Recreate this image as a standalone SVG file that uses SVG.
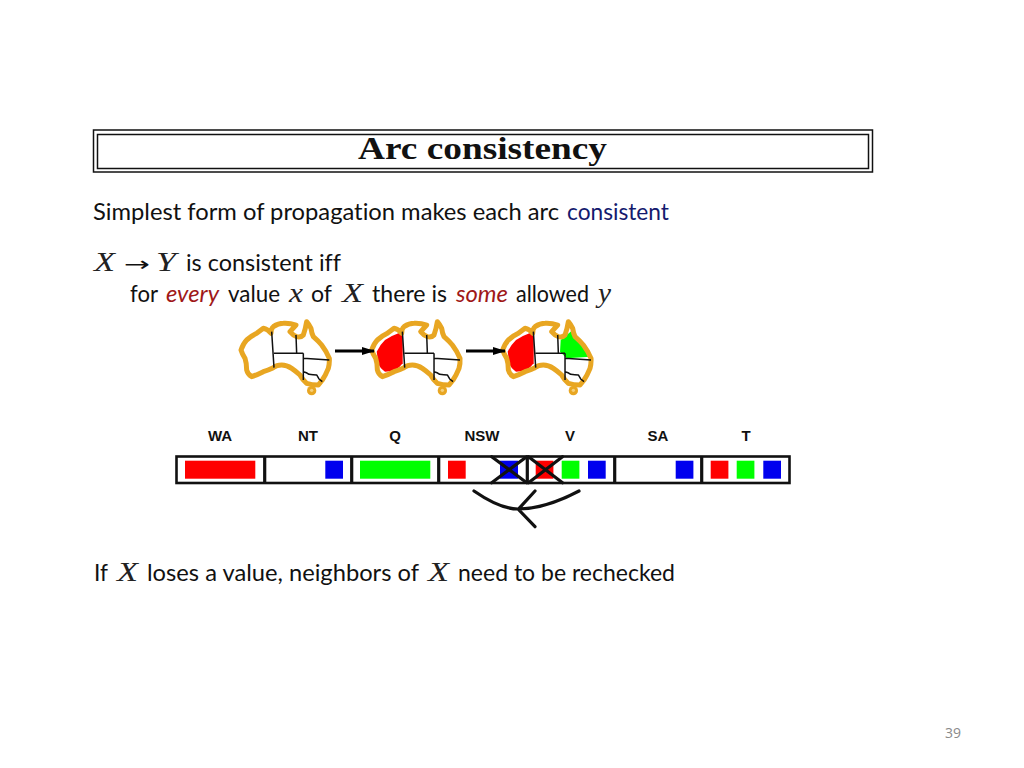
<svg xmlns="http://www.w3.org/2000/svg" width="1024" height="768" viewBox="0 0 1024 768">
<style>
text{font-family:Lato,"Open Sans",sans-serif;fill:#111;font-variant-ligatures:none}
.b{font-size:24px}
.m{font-family:"Liberation Serif",serif;font-style:italic;font-size:27px;fill:#222}
.em{font-style:italic;fill:#a01818}
.lab{font-family:"Liberation Sans",sans-serif;font-weight:700;font-size:15px;text-anchor:middle}
.cell{fill:none;stroke:#111;stroke-width:2.6}
.div{fill:none;stroke:#111;stroke-width:3.2}
.r{fill:#f00}.g{fill:#0f0}.u{fill:#00e}
.x{stroke:#111;stroke-width:3.2;fill:none;stroke-linecap:round}
.ol{fill:none;stroke:#e8a622;stroke-width:15;stroke-linejoin:round}
.in{fill:none;stroke:#111;stroke-width:4.5;stroke-linejoin:round}
.ar{stroke:#000;stroke-width:3}
.tb{fill:none;stroke:#111;stroke-width:1.5}
</style>
<defs>
<marker id="ah" markerWidth="14" markerHeight="10" refX="12" refY="4" orient="auto" markerUnits="userSpaceOnUse" viewBox="0 0 14 8"><path d="M0 0L13 4L0 8Z" fill="#000"/></marker>
<g id="map">
<path class="ol" d="M18 105Q25 85 35 75Q50 62 65 55L85 40Q98 42 108 55Q108 40 115 35Q130 25 145 25Q165 24 183 30L165 50Q175 62 185 65Q198 68 205 60Q212 40 215 20Q222 28 228 40Q230 55 235 65Q250 78 260 90Q275 110 283 130Q284 145 280 160Q272 180 262 195L250 210Q230 210 215 205Q203 195 195 180Q182 168 170 160Q155 150 140 150Q125 150 115 158Q100 165 85 170Q65 180 50 185Q38 178 35 165Q35 145 30 130Q22 118 18 105Z"/>
<path class="in" d="M110 50L117 158M117 115H205M183 60L185 115M205 115V195M205 130L283 135M205 170Q215 172 222 178Q235 180 245 180L252 192L262 200"/>
<circle cx="230" cy="227" r="14" fill="#e8a622"/><circle cx="230" cy="226" r="5" fill="#f5cf7a"/>
</g>
<path id="wa" d="M33 110Q42 90 58 75Q78 62 98 55Q108 55 111 65L111 145Q102 158 88 165Q72 170 58 170Q42 160 38 145Z"/>
</defs>
<rect width="1024" height="768" fill="#fff"/>
<g id="title">
<rect class="tb" x="93.5" y="130" width="779" height="42"/>
<rect class="tb" x="97.5" y="134.5" width="771" height="34"/>
<text x="358" y="159" textLength="249" lengthAdjust="spacingAndGlyphs" style="font-family:'Liberation Serif',serif;font-weight:700;font-size:31px">Arc consistency</text>
</g>
<g id="body">
<text class="b" x="93" y="220" textLength="466" lengthAdjust="spacingAndGlyphs">Simplest form of propagation makes each arc</text>
<text class="b" x="567" y="220" textLength="102" lengthAdjust="spacingAndGlyphs" style="fill:#141a6e">consistent</text>
<text class="m" x="94" y="271" textLength="21" lengthAdjust="spacingAndGlyphs">X</text>
<text x="124" y="271" textLength="26" lengthAdjust="spacingAndGlyphs" style="font-family:'DejaVu Sans',sans-serif;font-size:20px">→</text>
<text class="m" x="156" y="271" textLength="20" lengthAdjust="spacingAndGlyphs">Y</text>
<text class="b" x="186" y="271" textLength="155" lengthAdjust="spacingAndGlyphs">is consistent iff</text>
<text class="b" x="130" y="302" textLength="28" lengthAdjust="spacingAndGlyphs">for</text>
<text class="b em" x="166" y="302" textLength="53" lengthAdjust="spacingAndGlyphs">every</text>
<text class="b" x="228" y="302" textLength="52" lengthAdjust="spacingAndGlyphs">value</text>
<text class="m" x="289" y="302" textLength="14" lengthAdjust="spacingAndGlyphs">x</text>
<text class="b" x="311" y="302" textLength="21" lengthAdjust="spacingAndGlyphs">of</text>
<text class="m" x="342" y="302" textLength="21" lengthAdjust="spacingAndGlyphs">X</text>
<text class="b" x="372" y="302" textLength="75" lengthAdjust="spacingAndGlyphs">there is</text>
<text class="b em" x="456" y="302" textLength="52" lengthAdjust="spacingAndGlyphs">some</text>
<text class="b" x="516" y="302" textLength="73" lengthAdjust="spacingAndGlyphs">allowed</text>
<text class="m" x="598" y="302" textLength="13" lengthAdjust="spacingAndGlyphs">y</text>
<text class="b" x="94" y="581" textLength="14" lengthAdjust="spacingAndGlyphs">If</text>
<text class="m" x="117" y="581" textLength="21" lengthAdjust="spacingAndGlyphs">X</text>
<text class="b" x="147" y="581" textLength="272" lengthAdjust="spacingAndGlyphs">loses a value, neighbors of</text>
<text class="m" x="428" y="581" textLength="21" lengthAdjust="spacingAndGlyphs">X</text>
<text class="b" x="458" y="581" textLength="217" lengthAdjust="spacingAndGlyphs">need to be rechecked</text>
</g>
<g id="map-1" transform="translate(235 315) scale(.3333)"><use href="#map"/></g>
<g id="map-2" transform="translate(365.7 315) scale(.3333)"><use href="#wa" class="r"/><use href="#map"/></g>
<g id="map-3" transform="translate(496.7 315) scale(.3333)"><use href="#wa" class="r"/>
<path class="g" d="M192 75L228 45Q238 70 250 85Q270 105 282 125L210 130L190 110Z"/><use href="#map"/></g>
<g id="connectors">
<line class="ar" x1="335" y1="351" x2="374" y2="351" marker-end="url(#ah)"/>
<line class="ar" x1="466" y1="351" x2="505" y2="351" marker-end="url(#ah)"/>
<path class="x" d="M474 491Q500 509 518 509Q545 509 579 491M535 491L518.3 509.3L535 526.7"/>
</g>
<g id="labels">
<text class="lab" x="220" y="441">WA</text><text class="lab" x="308" y="441">NT</text><text class="lab" x="395" y="441">Q</text><text class="lab" x="482" y="441">NSW</text><text class="lab" x="570" y="441">V</text><text class="lab" x="658" y="441">SA</text><text class="lab" x="746" y="441">T</text>
</g>
<g id="domains">
<rect class="r" x="185" y="460.7" width="70.3" height="18"/>
<rect class="u" x="325.3" y="460.7" width="17.7" height="18"/>
<rect class="g" x="360" y="460.7" width="70.3" height="18"/>
<rect class="r" x="448" y="460.7" width="17.7" height="18"/>
<rect class="u" x="500" y="460.7" width="18" height="18"/>
<rect class="r" x="535.7" y="460.7" width="17.7" height="18"/>
<rect class="g" x="561.7" y="460.7" width="17.7" height="18"/>
<rect class="u" x="588" y="460.7" width="17.7" height="18"/>
<rect class="u" x="675.7" y="460.7" width="17.7" height="18"/>
<rect class="r" x="710.7" y="460.7" width="17.7" height="18"/>
<rect class="g" x="736.7" y="460.7" width="17.7" height="18"/>
<rect class="u" x="763.3" y="460.7" width="17.7" height="18"/>
<rect class="cell" x="176.5" y="456.5" width="613" height="26.5"/>
<path class="div" d="M264.7 456.5V483M351.7 456.5V483M438.7 456.5V483M527.3 456.5V483M614.7 456.5V483M701.7 456.5V483"/>
<path class="x" d="M491.7 456.7L526.7 482.7M491.7 482.7L526.7 456.7M528.5 456.7L562.5 482.7M528.5 482.7L562.5 456.7"/>
</g>
<text id="page" x="945" y="738" style="font-family:'Open Sans',sans-serif;font-size:14px;fill:#8a8a8a">39</text>
</svg>
